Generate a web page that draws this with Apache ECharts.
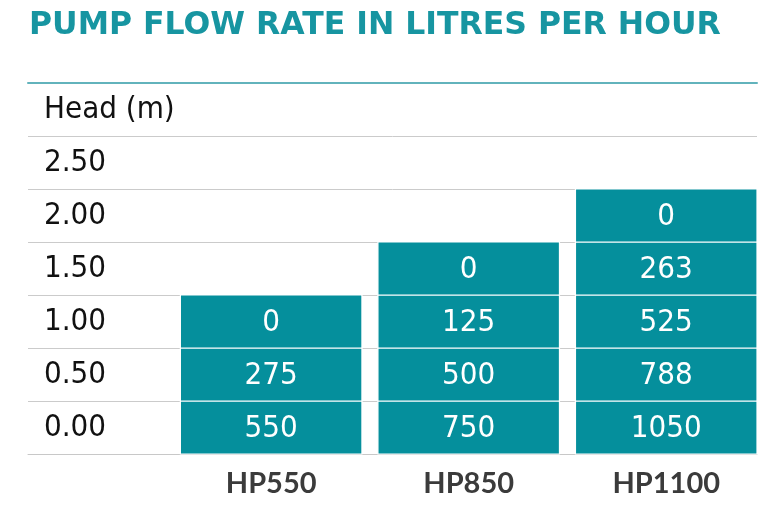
<!DOCTYPE html>
<html>
<head>
<meta charset="utf-8">
<script src="https://cdn.jsdelivr.net/npm/echarts@6/dist/echarts.min.js"></script>
<style>
  html, body { margin: 0; padding: 0; background: #fff; }
  #chart { width: 782px; height: 525px; }
</style>
</head>
<body>
<div id="chart"></div>
<script>
// pump models along the bottom
var models = ['HP550', 'HP850', 'HP1100'];
// head rows, bottom to top
var heads = ['0.00', '0.50', '1.00', '1.50', '2.00', '2.50'];
var headTitle = 'Head (m)';
// flow rate (l/h) for each head, starting at 0.00 m
var hp550 = [550, 275, 0];
var hp850 = [750, 500, 125, 0];
var hp1100 = [1050, 788, 525, 263, 0];

var teal = '#058f9c';
var cellWidth = 0.919; // share of a column that the teal cell takes
var condensed = "'DejaVu Sans Condensed', sans-serif";

// build [column, row, value] cells
var cells = [];
[hp550, hp850, hp1100].forEach(function (flows, col) {
  flows.forEach(function (v, row) {
    cells.push([col, row, v]);
  });
});

var chart = echarts.init(document.getElementById('chart'));

var option = {
  backgroundColor: '#fff',
  animation: false,
  title: {
    text: 'PUMP FLOW RATE IN LITRES PER HOUR',
    left: 24,
    top: 5,
    textStyle: {
      fontFamily: 'DejaVu Sans',
      fontWeight: 'bold',
      fontSize: 31.5,
      color: '#1795a1'
    }
  },
  grid: {
    left: 28,
    right: 25,
    top: 83,
    bottom: 71
  },
  xAxis: [{
    type: 'value',
    position: 'bottom',
    min: -1.231,
    max: 2 + cellWidth / 2,
    splitLine: { show: false },
    axisTick: { show: false },
    axisLine: { show: true, lineStyle: { color: '#c8c8c8', width: 1 } },
    axisLabel: {
      customValues: [0, 1, 2],
      margin: 15,
      formatter: function (v) { return models[Math.round(v)] || ''; },
      fontFamily: 'Lato',
      fontWeight: 'bold',
      fontSize: 29,
      color: '#3b3b3b'
    }
  }, {
    type: 'value',
    position: 'top',
    min: -1.231,
    max: 2 + cellWidth / 2,
    splitLine: { show: false },
    axisTick: { show: false },
    axisLabel: { show: false },
    axisLine: { show: true, lineStyle: { color: '#62b3bc', width: 2 } }
  }],
  yAxis: {
    type: 'category',
    data: heads.concat([headTitle]),
    boundaryGap: true,
    axisLine: { show: false },
    axisTick: { show: false },
    splitLine: {
      show: true,
      interval: 0,
      lineStyle: { color: '#cbcbcb', width: 1 }
    },
    axisLabel: {
      interval: 0,
      inside: true,
      align: 'left',
      margin: 16,
      fontFamily: condensed,
      fontSize: 31,
      color: '#111'
    }
  },
  series: [{
    type: 'custom',
    xAxisIndex: 0,
    data: cells,
    renderItem: function (params, api) {
      var c = api.coord([api.value(0), api.value(1)]);
      var s = api.size([cellWidth, 1]);
      return {
        type: 'group',
        children: [{
          type: 'rect',
          shape: { x: c[0] - s[0] / 2, y: c[1] - s[1] / 2, width: s[0], height: s[1] },
          style: { fill: teal, stroke: '#fff', lineWidth: 1.2 }
        }, {
          type: 'text',
          style: {
            text: String(api.value(2)),
            x: c[0],
            y: c[1] + 1,
            align: 'center',
            verticalAlign: 'middle',
            fill: '#fff',
            fontFamily: condensed,
            fontSize: 31
          }
        }]
      };
    }
  }]
};

chart.setOption(option);
</script>
</body>
</html>
